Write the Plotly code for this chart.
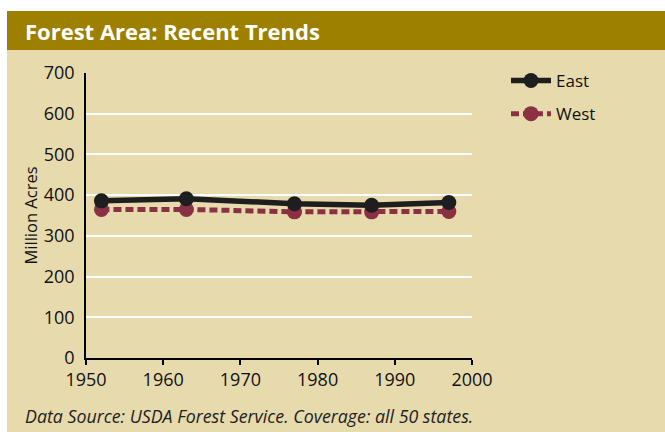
import plotly.graph_objects as go

# Forest area by region, million acres
years = [1952, 1963, 1977, 1987, 1997]
east = [386, 391, 379, 375, 382]
west = [365, 365, 359, 359, 360]

x_ticks = [1950, 1960, 1970, 1980, 1990, 2000]
y_ticks = [0, 100, 200, 300, 400, 500, 600, 700]

BEIGE = "#E7DAAD"
OLIVE = "#9E8000"
BURGUNDY = "#8A3144"
INK = "#1E1E1E"
FONT = "Open Sans"

fig = go.Figure()

fig.add_trace(go.Scatter(
    x=years, y=west, name="West", mode="lines+markers",
    line=dict(color=BURGUNDY, width=5, dash="8px,4px"),
    marker=dict(color=BURGUNDY, size=15),
    legendrank=2, legendgroup="w",
))
fig.add_trace(go.Scatter(
    x=years, y=east, name="East", mode="lines+markers",
    line=dict(color=INK, width=5.5),
    marker=dict(color=INK, size=15),
    legendrank=1, legendgroup="e",
))

# plot area: x 86..472 px, y 73..358 px in a 665x432 page
W, H = 665, 432
L, R, T, B = 86, 472, 73, 358
pw, ph = R - L, B - T


def px(x):
    return (x - L) / pw


def py(y):
    return (B - y) / ph


fig.add_shape(type="rect", xref="paper", yref="paper", layer="below",
              x0=px(7), x1=px(W + 5), y0=py(50), y1=py(H + 5),
              fillcolor=BEIGE, line_width=0)
fig.add_shape(type="rect", xref="paper", yref="paper", layer="below",
              x0=px(7), x1=px(W + 5), y0=py(11), y1=py(50),
              fillcolor=OLIVE, line_width=0)

fig.add_annotation(text="<b>Forest Area: Recent Trends</b>", xref="paper", yref="paper",
                   x=px(23), y=py(31), xanchor="left", yanchor="middle",
                   showarrow=False, font=dict(family=FONT, size=22, color="white"))
fig.add_annotation(text="<i>Data Source: USDA Forest Service. Coverage: all 50 states.</i>",
                   xref="paper", yref="paper",
                   x=px(23), y=py(416), xanchor="left", yanchor="middle",
                   showarrow=False, font=dict(family=FONT, size=17.8, color="#222222"))

fig.update_layout(
    width=W, height=H,
    margin=dict(l=L, r=W - R, t=T, b=H - B, pad=0),
    paper_bgcolor="white",
    plot_bgcolor=BEIGE,
    font=dict(family=FONT, size=18, color="#111111"),
    showlegend=True,
    legend=dict(x=px(506), y=py(63), xanchor="left", yanchor="top",
                bgcolor="rgba(0,0,0,0)", font=dict(size=17),
                tracegroupgap=8, itemwidth=40),
    xaxis=dict(range=[1950, 2000], tickvals=x_ticks, showgrid=False,
               showline=True, linecolor="black", linewidth=1.5,
               ticks="outside", ticklen=5, tickcolor="black", tickwidth=1.5,
               zeroline=False, fixedrange=True),
    yaxis=dict(range=[0, 700], tickvals=y_ticks, showgrid=True,
               gridcolor="white", gridwidth=1.5,
               showline=True, linecolor="black", linewidth=1.5,
               ticks="", ticklabelstandoff=6, zeroline=False,
               title=dict(text="Million Acres", standoff=2,
                          font=dict(size=16.5)),
               fixedrange=True),
)

fig.write_html("out.html")
